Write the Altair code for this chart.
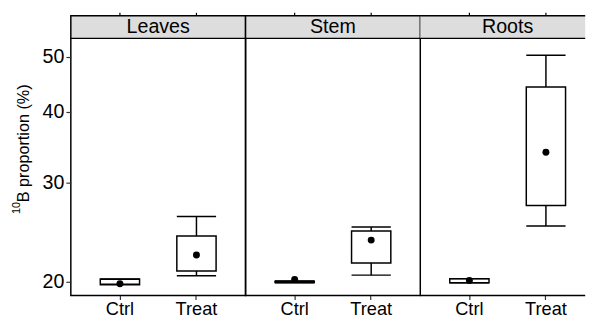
import altair as alt
import pandas as pd

tissues = ["Leaves", "Stem", "Roots"]
groups = ["Ctrl", "Treat"]

# order: Leaves Ctrl, Leaves Treat, Stem Ctrl, Stem Treat, Roots Ctrl, Roots Treat
whisker_low = [19.8, 20.5, 19.93, 20.55, 19.92, 25.1]
box_low = [19.76, 20.9, 19.95, 21.6, 19.93, 27.3]
box_high = [20.24, 24.1, 20.05, 24.6, 20.25, 44.2]
whisker_high = [20.2, 26.1, 20.07, 25.0, 20.26, 50.3]
means = [19.84, 22.3, 20.2, 23.7, 20.1, 33.9]

y_ticks = [20, 30, 40, 50]
y_title = "B proportion (%)"
y_title_sup = "10"

rows = []
for i, t in enumerate(tissues):
    for j, g in enumerate(groups):
        k = i * 2 + j
        rows.append({"tissue": t, "group": g, "lo": whisker_low[k], "q1": box_low[k],
                     "q3": box_high[k], "hi": whisker_high[k], "mean": means[k]})
df = pd.DataFrame(rows)

FONT = "Liberation Sans"
FULL_W = 178
widths = [178, 178, 168]   # last panel is cut at the right edge, as in the reference
MAIN_H = 262
STRIP_H = 23
LEFT = 63

ys = alt.Scale(type="log", domain=[18.91, 53.9], nice=False, zero=False)


def panel(idx, name, w):
    sub = df[df.tissue == name]
    base = alt.Chart(sub)
    xs = alt.Scale(domain=groups, paddingInner=0.487, paddingOuter=0.385, range=[0, FULL_W])
    xaxis = alt.Axis(title=None, labelFontSize=18.5, labelColor="black", labelFont=FONT,
                     tickSize=4, tickColor="#333333", tickWidth=1.2, domain=False,
                     labelPadding=0, labelAngle=0)
    x = alt.X("group:N", scale=xs, axis=xaxis)
    if idx == 0:
        yaxis = alt.Axis(values=y_ticks, title=None,
                         labelFont=FONT, labelFontSize=20, labelColor="black",
                         tickSize=5, tickColor="#333333", tickWidth=1.2, domain=False,
                         labelPadding=2, grid=False)
    else:
        yaxis = None

    def Y(f):
        return alt.Y(f, scale=ys, axis=yaxis)

    whisk = base.mark_rule(color="black", strokeWidth=1.5).encode(x=x, y=Y("lo:Q"), y2="hi:Q")
    box = base.mark_bar(fill="white", stroke="black", strokeWidth=1.5).encode(
        x=x, y=Y("q1:Q"), y2="q3:Q")
    cap_lo = base.mark_tick(size=40, thickness=1.5, color="black", opacity=1).encode(x=x, y=Y("lo:Q"))
    cap_hi = base.mark_tick(size=40, thickness=1.5, color="black", opacity=1).encode(x=x, y=Y("hi:Q"))
    pts = base.mark_point(filled=True, size=50, color="black", opacity=1).encode(x=x, y=Y("mean:Q"))

    one = pd.DataFrame({"t": [name]})
    last = idx == len(tissues) - 1
    # facet strip drawn above the panel
    bg = alt.Chart(one).mark_rect(
        fill="#dddddd", stroke="black", strokeWidth=1.5,
        strokeOpacity=0 if last else 1).encode(
        x=alt.value(0), x2=alt.value(w), y=alt.value(-STRIP_H), y2=alt.value(0))
    tk = alt.Chart(pd.DataFrame({"group": groups})).mark_rule(
        color="black", strokeWidth=1.2).encode(
        x=x, y=alt.value(-STRIP_H - 3), y2=alt.value(-STRIP_H))
    txt = alt.Chart(one).mark_text(
        font=FONT, fontSize=20, color="black", baseline="middle", align="center").encode(
        x=alt.value(FULL_W / 2), y=alt.value(-STRIP_H / 2 + 0.5), text="t:N")

    layers = [whisk, box, cap_lo, cap_hi, pts, bg, tk, txt]
    if last:
        for yy in (-STRIP_H, 0, MAIN_H):
            layers.append(alt.Chart(one).mark_rule(color="black", strokeWidth=1.5).encode(
                x=alt.value(0), x2=alt.value(w), y=alt.value(yy)))
    if idx == 0:
        t1 = alt.Chart(pd.DataFrame({"t": [y_title]})).mark_text(
            font=FONT, fontSize=16.5, color="black", angle=270, align="left",
            baseline="alphabetic").encode(x=alt.value(-43), y=alt.value(167), text="t:N")
        t2 = alt.Chart(pd.DataFrame({"t": [y_title_sup]})).mark_text(
            font=FONT, fontSize=11, color="black", angle=270, align="left",
            baseline="alphabetic").encode(x=alt.value(-52), y=alt.value(179), text="t:N")
        # invisible anchor fixing the left extent of the chart
        anchor = alt.Chart(one).mark_rule(opacity=0, strokeWidth=0.1).encode(
            x=alt.value(-LEFT), y=alt.value(100), y2=alt.value(110))
        layers += [t1, t2, anchor]
    ch = alt.layer(*layers).properties(width=w, height=MAIN_H)
    if last:
        ch = ch.properties(view=alt.ViewBackground(stroke="transparent"))
    return ch


cols = [panel(i, t, widths[i]) for i, t in enumerate(tissues)]
chart = alt.hconcat(*cols, spacing=0, bounds="flush").resolve_scale(
    x="independent", y="independent"
).configure_view(stroke="black", strokeWidth=1.5).configure_axis(grid=False).properties(
    padding={"left": 0, "top": 0, "right": 0, "bottom": 0}
)

chart.save("out.html", embed_options={"renderer": "svg", "actions": False})
